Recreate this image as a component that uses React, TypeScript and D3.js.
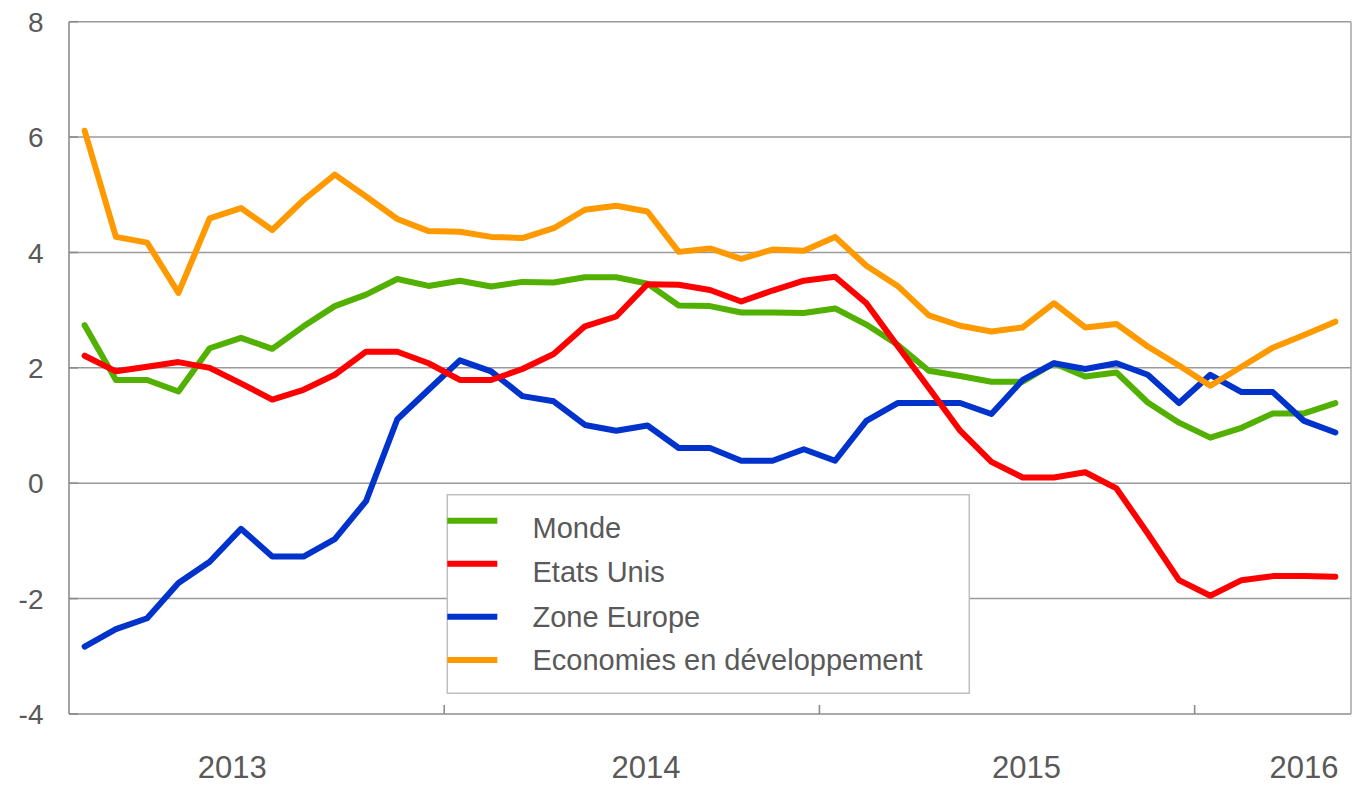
import React from 'react'
import * as d3 from 'd3'

// monthly series, Jan 2013 .. May 2016
const months = d3.timeMonths(new Date(2013, 0, 1), new Date(2016, 5, 1))

const monde = [
  2.74, 1.79, 1.79, 1.59, 2.34, 2.52, 2.33, 2.72, 3.07, 3.27, 3.54, 3.42,
  3.51, 3.41, 3.49, 3.48, 3.57, 3.57, 3.46, 3.08, 3.07, 2.96, 2.96, 2.95,
  3.03, 2.75, 2.40, 1.95, 1.86, 1.76, 1.76, 2.08, 1.85, 1.92, 1.40, 1.05,
  0.79, 0.96, 1.21, 1.21, 1.39,
]
const etatsUnis = [
  2.21, 1.94, 2.02, 2.10, 2.00, 1.73, 1.45, 1.62, 1.88, 2.28, 2.28, 2.08,
  1.79, 1.79, 1.98, 2.24, 2.72, 2.89, 3.45, 3.44, 3.35, 3.15, 3.34, 3.51,
  3.58, 3.12, 2.38, 1.65, 0.91, 0.37, 0.10, 0.10, 0.19, -0.09, -0.87, -1.68,
  -1.95, -1.68, -1.61, -1.61, -1.62,
]
const zoneEurope = [
  -2.83, -2.53, -2.34, -1.73, -1.36, -0.79, -1.27, -1.27, -0.97, -0.31, 1.11, 1.62,
  2.13, 1.94, 1.51, 1.42, 1.01, 0.91, 1.00, 0.61, 0.61, 0.39, 0.39, 0.59,
  0.39, 1.08, 1.39, 1.39, 1.39, 1.20, 1.79, 2.08, 1.98, 2.08, 1.88, 1.39,
  1.88, 1.58, 1.58, 1.08, 0.88,
]
const economies = [
  6.11, 4.27, 4.17, 3.30, 4.59, 4.77, 4.39, 4.91, 5.35, 4.97, 4.58, 4.37,
  4.36, 4.27, 4.25, 4.42, 4.74, 4.81, 4.71, 4.01, 4.07, 3.89, 4.05, 4.03,
  4.27, 3.77, 3.42, 2.91, 2.73, 2.63, 2.70, 3.12, 2.70, 2.76, 2.37, 2.04,
  1.69, 2.02, 2.35, 2.57, 2.80,
]

const seriesNames = ['Monde', 'Etats Unis', 'Zone Europe', 'Economies en développement']
const seriesValues = [monde, etatsUnis, zoneEurope, economies]
const seriesColors = ['#52b000', '#ff0000', '#0033cc', '#ff9900']
const drawOrder = [0, 2, 1, 3]

const yTicks = [8, 6, 4, 2, 0, -2, -4]
const yearLabels = ['2013', '2014', '2015', '2016']
// where each year label sits, in months from the first point
const yearLabelAt = [4.72, 17.95, 30.12, 39.0]

const W = 1360
const H = 785
const plot = { left: 69, right: 1351, top: 21.7, bottom: 714 }
const textColor = '#595959'
const gridColor = '#9a9a9a'
const axisColor = '#8c8c8c'
const font = '"Liberation Sans", Arial, sans-serif'

const legend = { x: 447.3, y: 494.7, w: 522, h: 198.5, rowY: [538.3, 581.7, 626.7, 670], swatchDy: [-17.6, -18, -10, -10] }

export default function App() {
  const idx = d3.range(months.length)
  const x = d3.scalePoint<number>().domain(idx).range([plot.left, plot.right]).padding(0.5)
  const step = x.step()
  const y = d3.scaleLinear().domain([-4, 8]).range([plot.bottom, plot.top])
  const xAt = (m: number) => (x(0) as number) + m * step

  const line = d3.line<number>()
    .x((_, i) => x(i) as number)
    .y(d => y(d))

  // ticks at year boundaries (between December and January)
  const yearTicks = idx.filter(i => i > 0 && months[i].getMonth() === 0).map(i => xAt(i - 0.5))

  return (
    <svg width={W} height={H} style={{ position: 'absolute', left: 0, top: 0, background: '#fff' }}
      fontFamily={font}>
      {/* grid */}
      {yTicks.filter(t => t > -4).map(t => (
        <line key={t} x1={plot.left} x2={plot.right} y1={y(t)} y2={y(t)} stroke={gridColor} strokeWidth={1.5} />
      ))}
      <line x1={plot.right} x2={plot.right} y1={plot.top} y2={plot.bottom} stroke="#a6a6a6" strokeWidth={1.5} />
      {/* axes */}
      <line x1={plot.left} x2={plot.left} y1={plot.top} y2={plot.bottom} stroke={axisColor} strokeWidth={1.6} />
      <line x1={plot.left} x2={plot.right} y1={plot.bottom} y2={plot.bottom} stroke={axisColor} strokeWidth={1.6} />
      {yTicks.map(t => (
        <line key={'yt' + t} x1={plot.left} x2={plot.left + 9} y1={y(t)} y2={y(t)} stroke={axisColor} strokeWidth={1.6} />
      ))}
      {yearTicks.map(px => (
        <line key={'xt' + px} x1={px} x2={px} y1={plot.bottom} y2={plot.bottom - 9} stroke={axisColor} strokeWidth={1.6} />
      ))}
      {yTicks.map(t => (
        <text key={'yl' + t} x={43.5} y={y(t)} dy="0.36em" textAnchor="end" fontSize={28} fill={textColor}>{t}</text>
      ))}
      {yearLabels.map((lab, i) => (
        <text key={lab} x={xAt(yearLabelAt[i])} y={778} textAnchor="middle" fontSize={31} fill={textColor}>{lab}</text>
      ))}

      {/* series */}
      {drawOrder.map(s => (
        <path key={seriesNames[s]} d={line(seriesValues[s]) as string} fill="none" stroke={seriesColors[s]}
          strokeWidth={6} strokeLinejoin="round" strokeLinecap="round" />
      ))}

      {/* legend */}
      <rect x={legend.x} y={legend.y} width={legend.w} height={legend.h} fill="#fff" stroke="#bfbfbf" strokeWidth={1.5} />
      {seriesNames.map((name, i) => (
        <g key={name}>
          <line x1={legend.x} x2={legend.x + 50} y1={legend.rowY[i] + legend.swatchDy[i]} y2={legend.rowY[i] + legend.swatchDy[i]}
            stroke={seriesColors[i]} strokeWidth={6} />
          <text x={532.5} y={legend.rowY[i]} fontSize={29} fill={textColor}>{name}</text>
        </g>
      ))}
    </svg>
  )
}
